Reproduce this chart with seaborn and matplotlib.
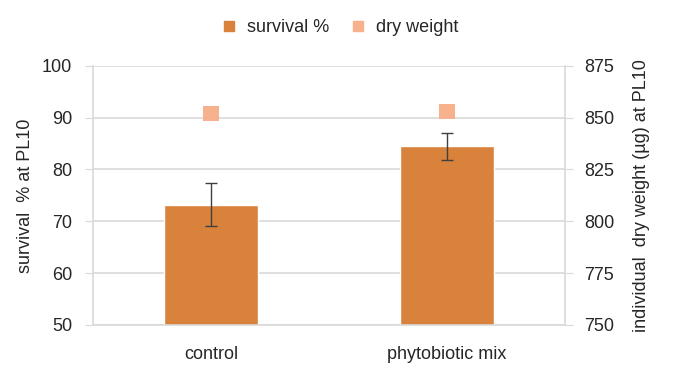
import numpy as np
import pandas as pd
import matplotlib
matplotlib.use("Agg")
import matplotlib.pyplot as plt
import seaborn as sns
from matplotlib.lines import Line2D

groups = ["control", "phytobiotic mix"]
survival = [73.2, 84.5]
survival_err = [4.2, 2.6]
dry_weight = [852.0, 852.8]

data = pd.DataFrame({"group": groups, "survival": survival, "dry": dry_weight})

sns.set_style("white")
plt.rcParams["font.family"] = ["Liberation Sans", "DejaVu Sans"]

bar_col = "#D9823C"
dot_col = "#F8B18D"
grid_col = "#D9D9D9"
txt_col = "#262626"
fs = 13

fig = plt.figure(figsize=(6.75, 3.85), dpi=100)
ax = fig.add_axes([0.138, 0.156, 0.699, 0.673])

sns.barplot(data=data, x="group", y="survival", color=bar_col, width=0.4,
            saturation=1, ax=ax, zorder=2)
ax.errorbar(x=np.arange(len(groups)), y=survival, yerr=survival_err, fmt="none",
            ecolor="#404040", elinewidth=1, capsize=4.5, capthick=1, zorder=3)
ax.set_ylim(50, 100)
ax.set_yticks(range(50, 101, 10))
ax.set_xlim(-0.5, 1.5)
ax.set_xticks([0.5], minor=True)
ax.tick_params(axis="x", which="major", length=0)
ax.tick_params(axis="x", which="minor", length=5, color=grid_col, direction="out")
ax.tick_params(axis="y", length=6, color=grid_col, direction="out", labelsize=fs,
               labelcolor=txt_col, pad=9)
ax.tick_params(axis="x", labelsize=fs, labelcolor=txt_col, pad=15)
ax.yaxis.grid(True, color=grid_col, lw=1.2, zorder=0)
ax.set_axisbelow(True)
ax.set_xlabel("")
ax.set_ylabel("survival  % at PL10", fontsize=fs, color=txt_col, labelpad=6)
for s in ["top", "right"]:
    ax.spines[s].set_visible(False)
for s in ["left", "bottom"]:
    ax.spines[s].set_color(grid_col)
    ax.spines[s].set_linewidth(1.2)

ax2 = ax.twinx()
sns.scatterplot(data=data, x="group", y="dry", marker="s", s=120, color=dot_col,
                edgecolor="none", ax=ax2, zorder=4)
ax2.set_ylim(750, 875)
ax2.set_yticks(range(750, 876, 25))
ax2.tick_params(axis="y", length=6, color=grid_col, direction="out", labelsize=fs,
                labelcolor=txt_col, pad=8)
ax2.set_ylabel("individual  dry weight (\u00b5g) at PL10", fontsize=fs, color=txt_col,
               labelpad=13)
ax2.set_xlabel("")
for s in ["top", "left", "bottom"]:
    ax2.spines[s].set_visible(False)
ax2.spines["right"].set_color(grid_col)
ax2.spines["right"].set_linewidth(1.2)

handles = [Line2D([], [], marker="s", ls="none", color=bar_col, markersize=7.5),
           Line2D([], [], marker="s", ls="none", color=dot_col, markersize=7.5)]
fig.legend(handles, ["survival %", "dry weight"], loc="center",
           bbox_to_anchor=(0.5, 0.928), ncol=2, frameon=False, fontsize=fs,
           handlelength=1.4, handletextpad=0.3, columnspacing=0.86,
           labelcolor=txt_col)

fig.savefig("out.png", dpi=100)
